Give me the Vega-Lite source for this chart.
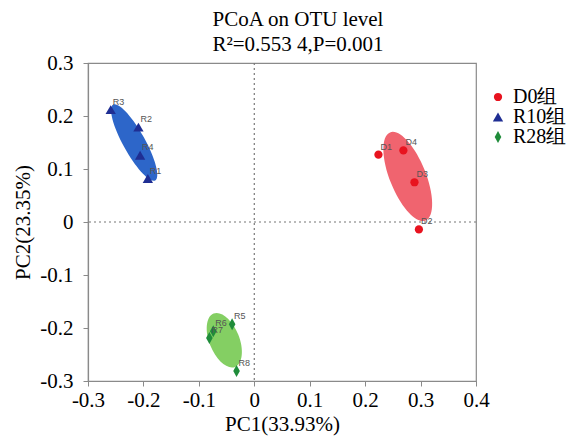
{
  "$schema": "https://vega.github.io/schema/vega-lite/v6.json",
  "width": 388,
  "height": 318,
  "autosize": {"type": "none"},
  "padding": {"left": 88, "top": 63, "right": 100, "bottom": 56},
  "background": "white",
  "title": {
    "text": "PCoA on OTU level",
    "subtitle": "R²=0.553 4,P=0.001",
    "anchor": "middle",
    "dx": 16,
    "offset": -3,
    "font": "Liberation Serif",
    "fontSize": 21,
    "fontWeight": "normal",
    "color": "black",
    "subtitleFont": "Liberation Serif",
    "subtitleFontSize": 21,
    "subtitleColor": "black",
    "subtitlePadding": 4
  },
  "config": {
    "view": {"stroke": "#8a8a8a", "strokeWidth": 1.2},
    "axis": {
      "grid": false,
      "domainColor": "#8a8a8a",
      "domainWidth": 1.2,
      "tickColor": "#8a8a8a",
      "tickSize": 5,
      "labelFont": "Liberation Serif",
      "labelFontSize": 21,
      "labelColor": "black",
      "titleFont": "Liberation Serif",
      "titleFontSize": 21,
      "titleFontWeight": "normal",
      "titleColor": "black"
    }
  },
  "datasets": {
    "points": [
      {"id": "D1", "group": "D0组", "x": 0.224, "y": 0.127},
      {"id": "D4", "group": "D0组", "x": 0.269, "y": 0.135},
      {"id": "D3", "group": "D0组", "x": 0.289, "y": 0.075},
      {"id": "D2", "group": "D0组", "x": 0.297, "y": -0.014},
      {"id": "R3", "group": "R10组", "x": -0.259, "y": 0.212},
      {"id": "R2", "group": "R10组", "x": -0.209, "y": 0.179},
      {"id": "R4", "group": "R10组", "x": -0.206, "y": 0.126},
      {"id": "R1", "group": "R10组", "x": -0.192, "y": 0.082},
      {"id": "R5", "group": "R28组", "x": -0.040, "y": -0.193},
      {"id": "R6", "group": "R28组", "x": -0.074, "y": -0.206},
      {"id": "R7", "group": "R28组", "x": -0.081, "y": -0.219},
      {"id": "R8", "group": "R28组", "x": -0.032, "y": -0.281}
    ],
    "ellipses": [
      {"group": "D0组", "x": 0.277, "y": 0.086},
      {"group": "R10组", "x": -0.2166, "y": 0.150},
      {"group": "R28组", "x": -0.054, "y": -0.223}
    ]
  },
  "layer": [
    {
      "data": {"values": [{"v": 0}]},
      "mark": {"type": "rule", "stroke": "#777", "strokeDash": [2, 3], "strokeWidth": 1.2},
      "encoding": {"x": {"field": "v", "type": "quantitative"}}
    },
    {
      "data": {"values": [{"v": 0}]},
      "mark": {"type": "rule", "stroke": "#777", "strokeDash": [2, 3], "strokeWidth": 1.2},
      "encoding": {"y": {"field": "v", "type": "quantitative"}}
    },
    {
      "data": {"name": "ellipses"},
      "transform": [{"filter": "datum.group == 'R10组'"}],
      "mark": {"type": "point", "filled": true, "opacity": 1, "fill": "#2d66c9", "strokeWidth": 0,
               "shape": "M0,-1A0.253,1 0 1,1 0,1A0.253,1 0 1,1 0,-1Z", "size": 7534, "angle": 331},
      "encoding": {
        "x": {"field": "x", "type": "quantitative"},
        "y": {"field": "y", "type": "quantitative"}
      }
    },
    {
      "data": {"name": "ellipses"},
      "transform": [{"filter": "datum.group == 'D0组'"}],
      "mark": {"type": "point", "filled": true, "opacity": 1, "fill": "#f0646f", "strokeWidth": 0,
               "shape": "M0,-1A0.379,1 0 1,1 0,1A0.379,1 0 1,1 0,-1Z", "size": 9025, "angle": 338},
      "encoding": {
        "x": {"field": "x", "type": "quantitative"},
        "y": {"field": "y", "type": "quantitative"}
      }
    },
    {
      "data": {"name": "ellipses"},
      "transform": [{"filter": "datum.group == 'R28组'"}],
      "mark": {"type": "point", "filled": true, "opacity": 1, "fill": "#84cf63", "strokeWidth": 0,
               "shape": "M0,-1A0.52,1 0 1,1 0,1A0.52,1 0 1,1 0,-1Z", "size": 3318, "angle": 338},
      "encoding": {
        "x": {"field": "x", "type": "quantitative"},
        "y": {"field": "y", "type": "quantitative"}
      }
    },
    {
      "data": {"name": "points"},
      "mark": {"type": "point", "filled": true, "opacity": 1, "strokeWidth": 0},
      "encoding": {
        "x": {
          "field": "x", "type": "quantitative",
          "scale": {"domain": [-0.3, 0.4], "nice": false, "zero": false},
          "axis": {"title": "PC1(33.93%)", "values": [-0.3, -0.2, -0.1, 0, 0.1, 0.2, 0.3, 0.4],
                   "labelExpr": "datum.value == 0 ? '0' : (datum.value < 0 ? '-' + format(-datum.value, '.1f') : format(datum.value, '.1f'))",
                   "labelPadding": 3, "titlePadding": 3, "labelFlush": false}
        },
        "y": {
          "field": "y", "type": "quantitative",
          "scale": {"domain": [-0.3, 0.3], "nice": false, "zero": false},
          "axis": {"title": "PC2(23.35%)", "values": [-0.3, -0.2, -0.1, 0, 0.1, 0.2, 0.3],
                   "labelExpr": "datum.value == 0 ? '0' : (datum.value < 0 ? '-' + format(-datum.value, '.1f') : format(datum.value, '.1f'))",
                   "labelPadding": 10, "titlePadding": 6, "labelFlush": false}
        },
        "color": {
          "field": "group", "type": "nominal",
          "scale": {"domain": ["D0组", "R10组", "R28组"], "range": ["#e8131f", "#1f2e93", "#1f8c3a"]},
          "legend": {
            "title": null, "orient": "none", "legendX": 400, "legendY": 24,
            "symbolSize": 170, "labelFont": "Liberation Serif", "labelFontSize": 20, "labelColor": "black",
            "rowPadding": 0, "padding": 0, "labelOffset": 5, "symbolStrokeWidth": 0
          }
        },
        "shape": {
          "field": "group", "type": "nominal",
          "scale": {"domain": ["D0组", "R10组", "R28组"], "range": ["circle", "triangle-up", "M0,-1L0.55,0L0,1L-0.55,0Z"]},
          "legend": {
            "title": null, "orient": "none", "legendX": 400, "legendY": 24,
            "symbolSize": 170, "labelFont": "Liberation Serif", "labelFontSize": 20, "labelColor": "black",
            "rowPadding": 0, "padding": 0, "labelOffset": 5, "symbolStrokeWidth": 0
          }
        },
        "size": {
          "field": "group", "type": "nominal",
          "scale": {"domain": ["D0组", "R10组", "R28组"], "range": [68, 144, 169]},
          "legend": null
        }
      }
    },
    {
      "data": {"name": "points"},
      "mark": {"type": "text", "align": "left", "baseline": "bottom", "dx": 2, "dy": -3,
               "font": "Liberation Sans", "fontSize": 9, "fill": "#555"},
      "encoding": {
        "x": {"field": "x", "type": "quantitative"},
        "y": {"field": "y", "type": "quantitative"},
        "text": {"field": "id"}
      }
    }
  ]
}
